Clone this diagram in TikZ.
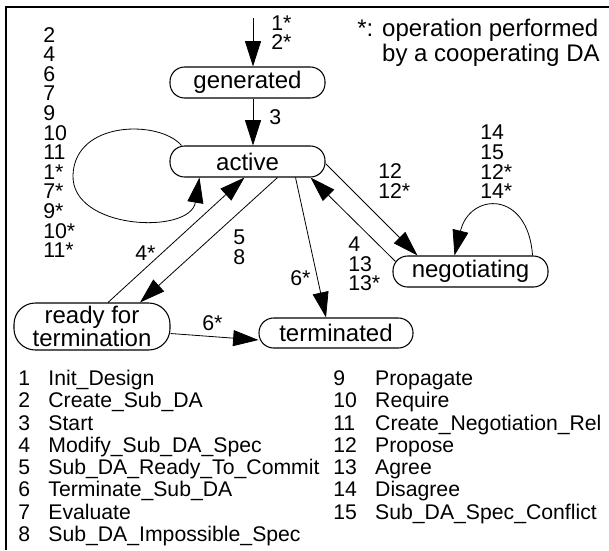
\documentclass[tikz,border=0pt]{standalone}
\usepackage{fontspec}
\setmainfont{Liberation Sans}
\usetikzlibrary{arrows.meta, calc}

\begin{document}
\begin{tikzpicture}[
    x=0.75pt, y=-0.75pt,
    state/.style={draw, rounded corners=11pt, line width=0.8pt, minimum width=116.25pt,
      minimum height=23.25pt, inner sep=0pt, align=center, font=\fontsize{18}{11.3}\selectfont},
    lbl/.style={inner sep=0pt, anchor=west, align=left, font=\fontsize{16}{14.7}\selectfont},
    legend/.style={inner sep=0pt, anchor=base west, font=\fontsize{15.9}{16.7}\selectfont},
    arr/.style={-{Triangle[length=19pt, width=12pt]}, line width=0.6pt}
  ]
  \useasboundingbox (0,0) rectangle (609,550);
  \draw[line width=0.9pt] (6,550) -- (6,7) -- (609,7);

  % states
  \node[state] (gen) at (247.5,82.5) {generated};
  \node[state] (act) at (247.5,161.5) {active};
  \node[state] (neg) at (470.5,271.5) {negotiating};
  \node[state, minimum width=117pt, minimum height=35.25pt, rounded corners=16pt] (rdy) at (92,326.5) {ready for\\termination};
  \node[state, minimum width=115.5pt, minimum height=22.5pt] (term) at (336,333) {terminated};
  \coordinate (start) at (253,18);

  % transitions
  \draw[arr] (start) -- (gen.north -| start);
  \draw[arr] (gen.south -| start) -- (act.north -| start);
  \draw[arr] ($(act.north west)+(12,0)$) .. controls (160,120) and (75,120) .. (73,175)
    .. controls (71,230) and (190,235) .. ($(act.south west)+(30,0)$);
  \draw[arr] ($(rdy.north)+(16,0)$) -- ($(act.south)+(-3,0)$);
  \draw[arr] ($(act.south)+(30,0)$) -- ($(rdy.north)+(48,0)$);
  \draw[arr] ($(act.south)+(48,0)$) -- ($(term.north)+(-10,0)$);
  \draw[arr] ($(rdy.east)+(0,7)$) -- ($(term.west)+(0,7)$);
  \draw[arr] ($(act.east)+(0,2)$) -- ($(neg.north west)+(25,0)$);
  \draw[arr] ($(neg.north west)+(3,6)$) -- ($(act.south east)+(-15,0)$);
  \draw[arr] ($(neg.north east)+(-16,0)$) .. controls (528,190) and (470,192) .. ($(neg.north west)+(62,0)$);

  % operation numbers
  \node[lbl] (lblinit) at (271,32.5) {1*\\2*};
  \node[lbl] (lblstart) at (269,117) {3};
  \node[lbl] (lblloop) at (43,142.5) {2\\4\\6\\7\\9\\10\\11\\1*\\7*\\9*\\10*\\11*};
  \node[lbl] (lblprop) at (378,181) {12\\12*};
  \node[lbl] (lblneg) at (480,162) {14\\15\\12*\\14*};
  \node[lbl] (lblagree) at (348,264) {4\\13\\13*};
  \node[lbl] (lblcommit) at (233,247) {5\\8};
  \node[lbl] (lblmodify) at (135,253) {4*};
  \node[lbl] (lblterm) at (290,278) {6*};
  \node[lbl] (lblready) at (202,323) {6*};
  \node[lbl, font=\fontsize{18}{18.75}\selectfont] (note) at (357,42.5)
    {*: operation performed\\\phantom{*: }by a cooperating DA};

  % legend
  \node[legend] (legleft) at (18,385.5) {\begin{tabular}[t]{@{}l@{\hspace{13.8pt}}l@{}}
    1 & Init\_Design\\
    2 & Create\_Sub\_DA\\
    3 & Start\\
    4 & Modify\_Sub\_DA\_Spec\\
    5 & Sub\_DA\_Ready\_To\_Commit\\
    6 & Terminate\_Sub\_DA\\
    7 & Evaluate\\
    8 & Sub\_DA\_Impossible\_Spec
  \end{tabular}};
  \node[legend] (legright) at (333,385.5) {\begin{tabular}[t]{@{}l@{\hspace{13.8pt}}l@{}}
    9 & Propagate\\
    10 & Require\\
    11 & Create\_Negotiation\_Rel\\
    12 & Propose\\
    13 & Agree\\
    14 & Disagree\\
    15 & Sub\_DA\_Spec\_Conflict
  \end{tabular}};
\end{tikzpicture}
\end{document}
